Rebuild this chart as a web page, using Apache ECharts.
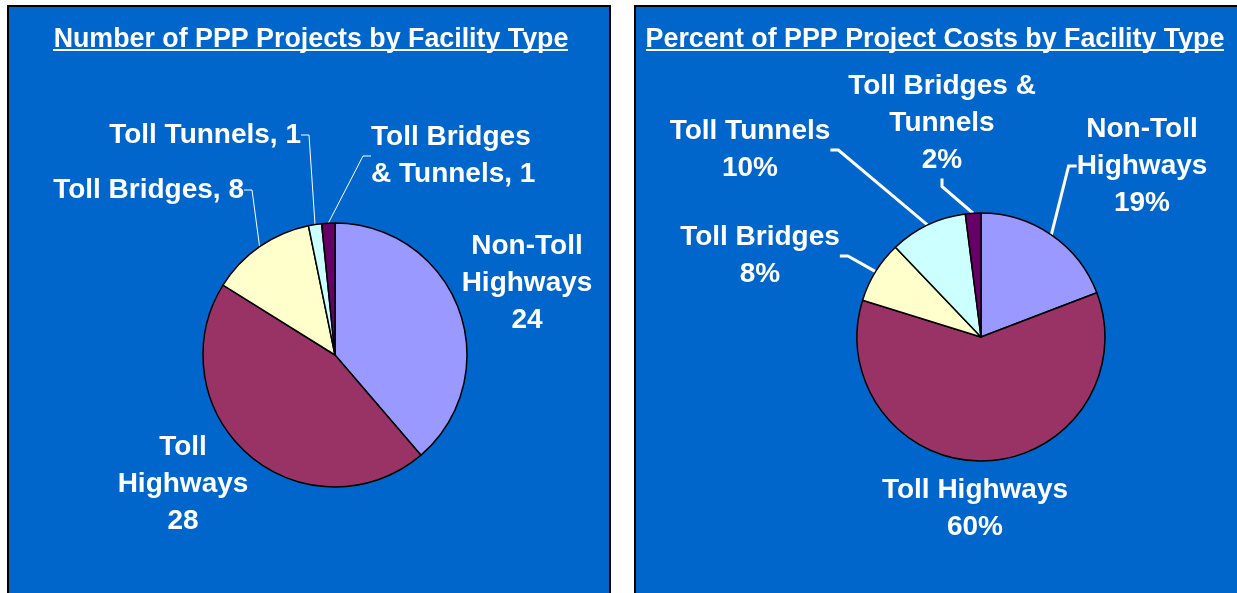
<!DOCTYPE html>
<html>
<head>
<meta charset="utf-8">
<script src="https://cdn.jsdelivr.net/npm/echarts@6/dist/echarts.min.js"></script>
<style>
html, body { margin: 0; padding: 0; background: #fff; }
#main { width: 1237px; height: 593px; }
</style>
</head>
<body>
<div id="main"></div>
<script>
// facility types, same order on both pies (clockwise from 12 o'clock)
var categories = ['Non-Toll Highways', 'Toll Highways', 'Toll Bridges', 'Toll Tunnels', 'Toll Bridges & Tunnels'];
var projectCounts = [24, 28, 8, 1, 1];
var costPercents = [19, 60, 8, 10, 2];
var sliceColors = ['#9999FF', '#993366', '#FFFFCC', '#CCFFFF', '#660066'];

// label text for each slice
var countLabels = ['Non-Toll\nHighways\n{v}', 'Toll\nHighways\n{v}', 'Toll Bridges, {v}', 'Toll Tunnels, {v}', 'Toll Bridges\n& Tunnels, {v}'];
var costLabels = ['Non-Toll\nHighways\n{v}%', 'Toll Highways\n{v}%', 'Toll Bridges\n{v}%', 'Toll Tunnels\n{v}%', 'Toll Bridges &\nTunnels\n{v}%'];

// where Excel put the labels [x, y, align]
var countLabelPos = [[527, 283, 'center'], [183, 484, 'center'], [244, 190, 'right'], [301, 135, 'right'], [371, 156, 'left']];
var costLabelPos = [[1142, 166, 'center'], [975, 509, 'center'], [760, 256, 'center'], [750, 150, 'center'], [942, 123, 'center']];
var countLines = [false, false, true, true, true];
var costLines = [true, false, true, true, true];

var font = "'Liberation Sans', Arial, sans-serif";

function pieData(values, lines) {
	return values.map(function (v, i) {
		return {
			name: categories[i],
			value: v,
			itemStyle: { color: sliceColors[i] },
			labelLine: { show: lines[i] }
		};
	});
}

function pieSeries(values, texts, pos, lines, center, radius, lineWidth) {
	return {
		type: 'pie',
		center: center,
		radius: radius,
		startAngle: 90,
		clockwise: true,
		avoidLabelOverlap: false,
		silent: true,
		data: pieData(values, lines),
		itemStyle: { borderColor: '#000', borderWidth: 1.5 },
		label: {
			show: true,
			position: 'outside',
			color: '#fff',
			fontFamily: font,
			fontWeight: 'bold',
			fontSize: 28,
			lineHeight: 37,
			formatter: function (p) {
				return texts[p.dataIndex].replace('{v}', p.value);
			}
		},
		labelLine: {
			length: 10,
			length2: 8,
			lineStyle: { color: '#fff', width: lineWidth }
		},
		labelLayout: function (p) {
			var q = pos[p.dataIndex];
			return { x: q[0], y: q[1], align: q[2], verticalAlign: 'middle' };
		}
	};
}

var option = {
	backgroundColor: '#fff',
	animation: false,
	title: [{
		text: 'Number of PPP Projects by Facility Type',
		left: 306, top: 21, textAlign: 'center',
		textStyle: { color: '#fff', fontFamily: font, fontWeight: 'bold', fontSize: 26.8 }
	}, {
		text: 'Percent of PPP Project Costs by Facility Type',
		left: 930, top: 21, textAlign: 'center',
		textStyle: { color: '#fff', fontFamily: font, fontWeight: 'bold', fontSize: 26.8 }
	}],
	graphic: [
		{ type: 'rect', z: -10, shape: { x: 8, y: 6, width: 602, height: 620 },
		  style: { fill: '#0066CC', stroke: '#000', lineWidth: 2 } },
		{ type: 'rect', z: -10, shape: { x: 635, y: 6, width: 620, height: 620 },
		  style: { fill: '#0066CC', stroke: '#000', lineWidth: 2 } },
		{ type: 'line', z: 5, shape: { x1: 53, y1: 50, x2: 568, y2: 50 },
		  style: { stroke: '#fff', lineWidth: 2 } },
		{ type: 'line', z: 5, shape: { x1: 646, y1: 50, x2: 1224, y2: 50 },
		  style: { stroke: '#fff', lineWidth: 2 } }
	],
	series: [
		pieSeries(projectCounts, countLabels, countLabelPos, countLines, [335, 355], 132, 1),
		pieSeries(costPercents, costLabels, costLabelPos, costLines, [981, 337], 124, 3)
	]
};

var myChart = echarts.init(document.getElementById('main'));
myChart.setOption(option, true);
</script>
</body>
</html>
